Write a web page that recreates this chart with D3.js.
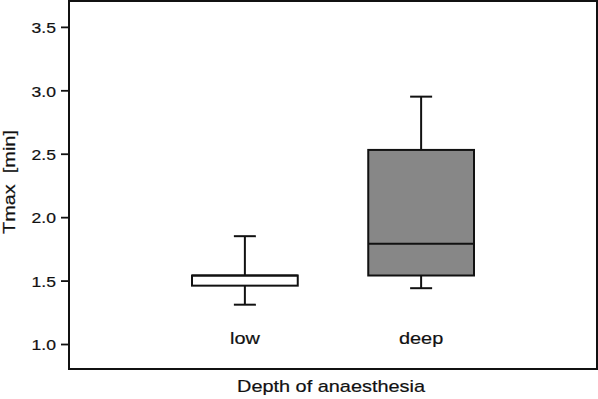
<!DOCTYPE html>
<html><head><meta charset="utf-8">
<script src="https://cdn.jsdelivr.net/npm/d3@7"></script>
<style>html,body{margin:0;padding:0;background:#fff;}svg{display:block;}</style>
</head><body>
<svg id="c" width="598" height="399"></svg>
<script>
const categories = ["low", "deep"];
const whiskerLow = [1.31, 1.44];
const q1 = [1.46, 1.54];
const median = [1.54, 1.79];
const q3 = [1.54, 2.53];
const whiskerHigh = [1.85, 2.95];
const fills = ["#ffffff", "#878787"];
const yTicks = [1.0, 1.5, 2.0, 2.5, 3.0, 3.5];

const svg = d3.select("#c");
const L = 69, T = 1, R = 597, B = 369;
const font = "Liberation Sans, Arial, sans-serif";
const SX = 1.17;

const y = d3.scaleLinear().domain([0.803, 3.704]).range([B, T]);
const x = d3.scaleBand().domain(categories).range([192, 474]).paddingInner(0.4).paddingOuter(0);

function styleText(sel, size) {
  return sel.attr("font-family", font).attr("font-size", size).attr("fill", "#111")
    .attr("stroke", "#111").attr("stroke-width", 0.2);
}

// frame
svg.append("rect").attr("x", L).attr("y", T).attr("width", R - L).attr("height", B - T)
  .attr("fill", "none").attr("stroke", "#111").attr("stroke-width", 2);

// y axis
const yAxis = d3.axisLeft(y).tickValues(yTicks).tickFormat(d3.format(".1f")).tickSize(8).tickPadding(5);
const ga = svg.append("g").attr("transform", `translate(${L},0)`).call(yAxis);
ga.select(".domain").remove();
ga.selectAll("line").attr("stroke", "#111").attr("stroke-width", 1.8);
styleText(ga.selectAll("text"), 15)
  .attr("x", 0).attr("transform", `translate(-13,1) scale(${SX},1)`);

// boxes
const g = svg.append("g");
categories.forEach((c, i) => {
  const x0 = x(c), w = x.bandwidth(), cx = x0 + w / 2, cap = 22;
  const s = g.append("g").attr("stroke", "#111").attr("stroke-width", 2);
  s.append("line").attr("x1", cx).attr("x2", cx).attr("y1", y(whiskerHigh[i])).attr("y2", y(q3[i]));
  s.append("line").attr("x1", cx).attr("x2", cx).attr("y1", y(q1[i])).attr("y2", y(whiskerLow[i]));
  s.append("line").attr("x1", cx - cap / 2).attr("x2", cx + cap / 2).attr("y1", y(whiskerHigh[i])).attr("y2", y(whiskerHigh[i]));
  s.append("line").attr("x1", cx - cap / 2).attr("x2", cx + cap / 2).attr("y1", y(whiskerLow[i])).attr("y2", y(whiskerLow[i]));
  s.append("rect").attr("x", x0).attr("width", w).attr("y", y(q3[i])).attr("height", y(q1[i]) - y(q3[i]))
    .attr("fill", fills[i]);
  s.append("line").attr("x1", x0).attr("x2", x0 + w).attr("y1", y(median[i])).attr("y2", y(median[i]));
  styleText(svg.append("text"), 17).attr("transform", `translate(${cx},344) scale(${SX},1)`)
    .attr("text-anchor", "middle").text(c);
});

// axis titles
styleText(svg.append("text"), 17).attr("transform", `translate(${(L + R) / 2 - 2},392) scale(${SX},1)`)
  .attr("text-anchor", "middle").text("Depth of anaesthesia");
styleText(svg.append("text"), 17).attr("transform", `translate(15,182) rotate(-90) scale(${SX},1)`)
  .attr("text-anchor", "middle").attr("xml:space", "preserve").text("Tmax  [min]");
</script>
</body></html>
